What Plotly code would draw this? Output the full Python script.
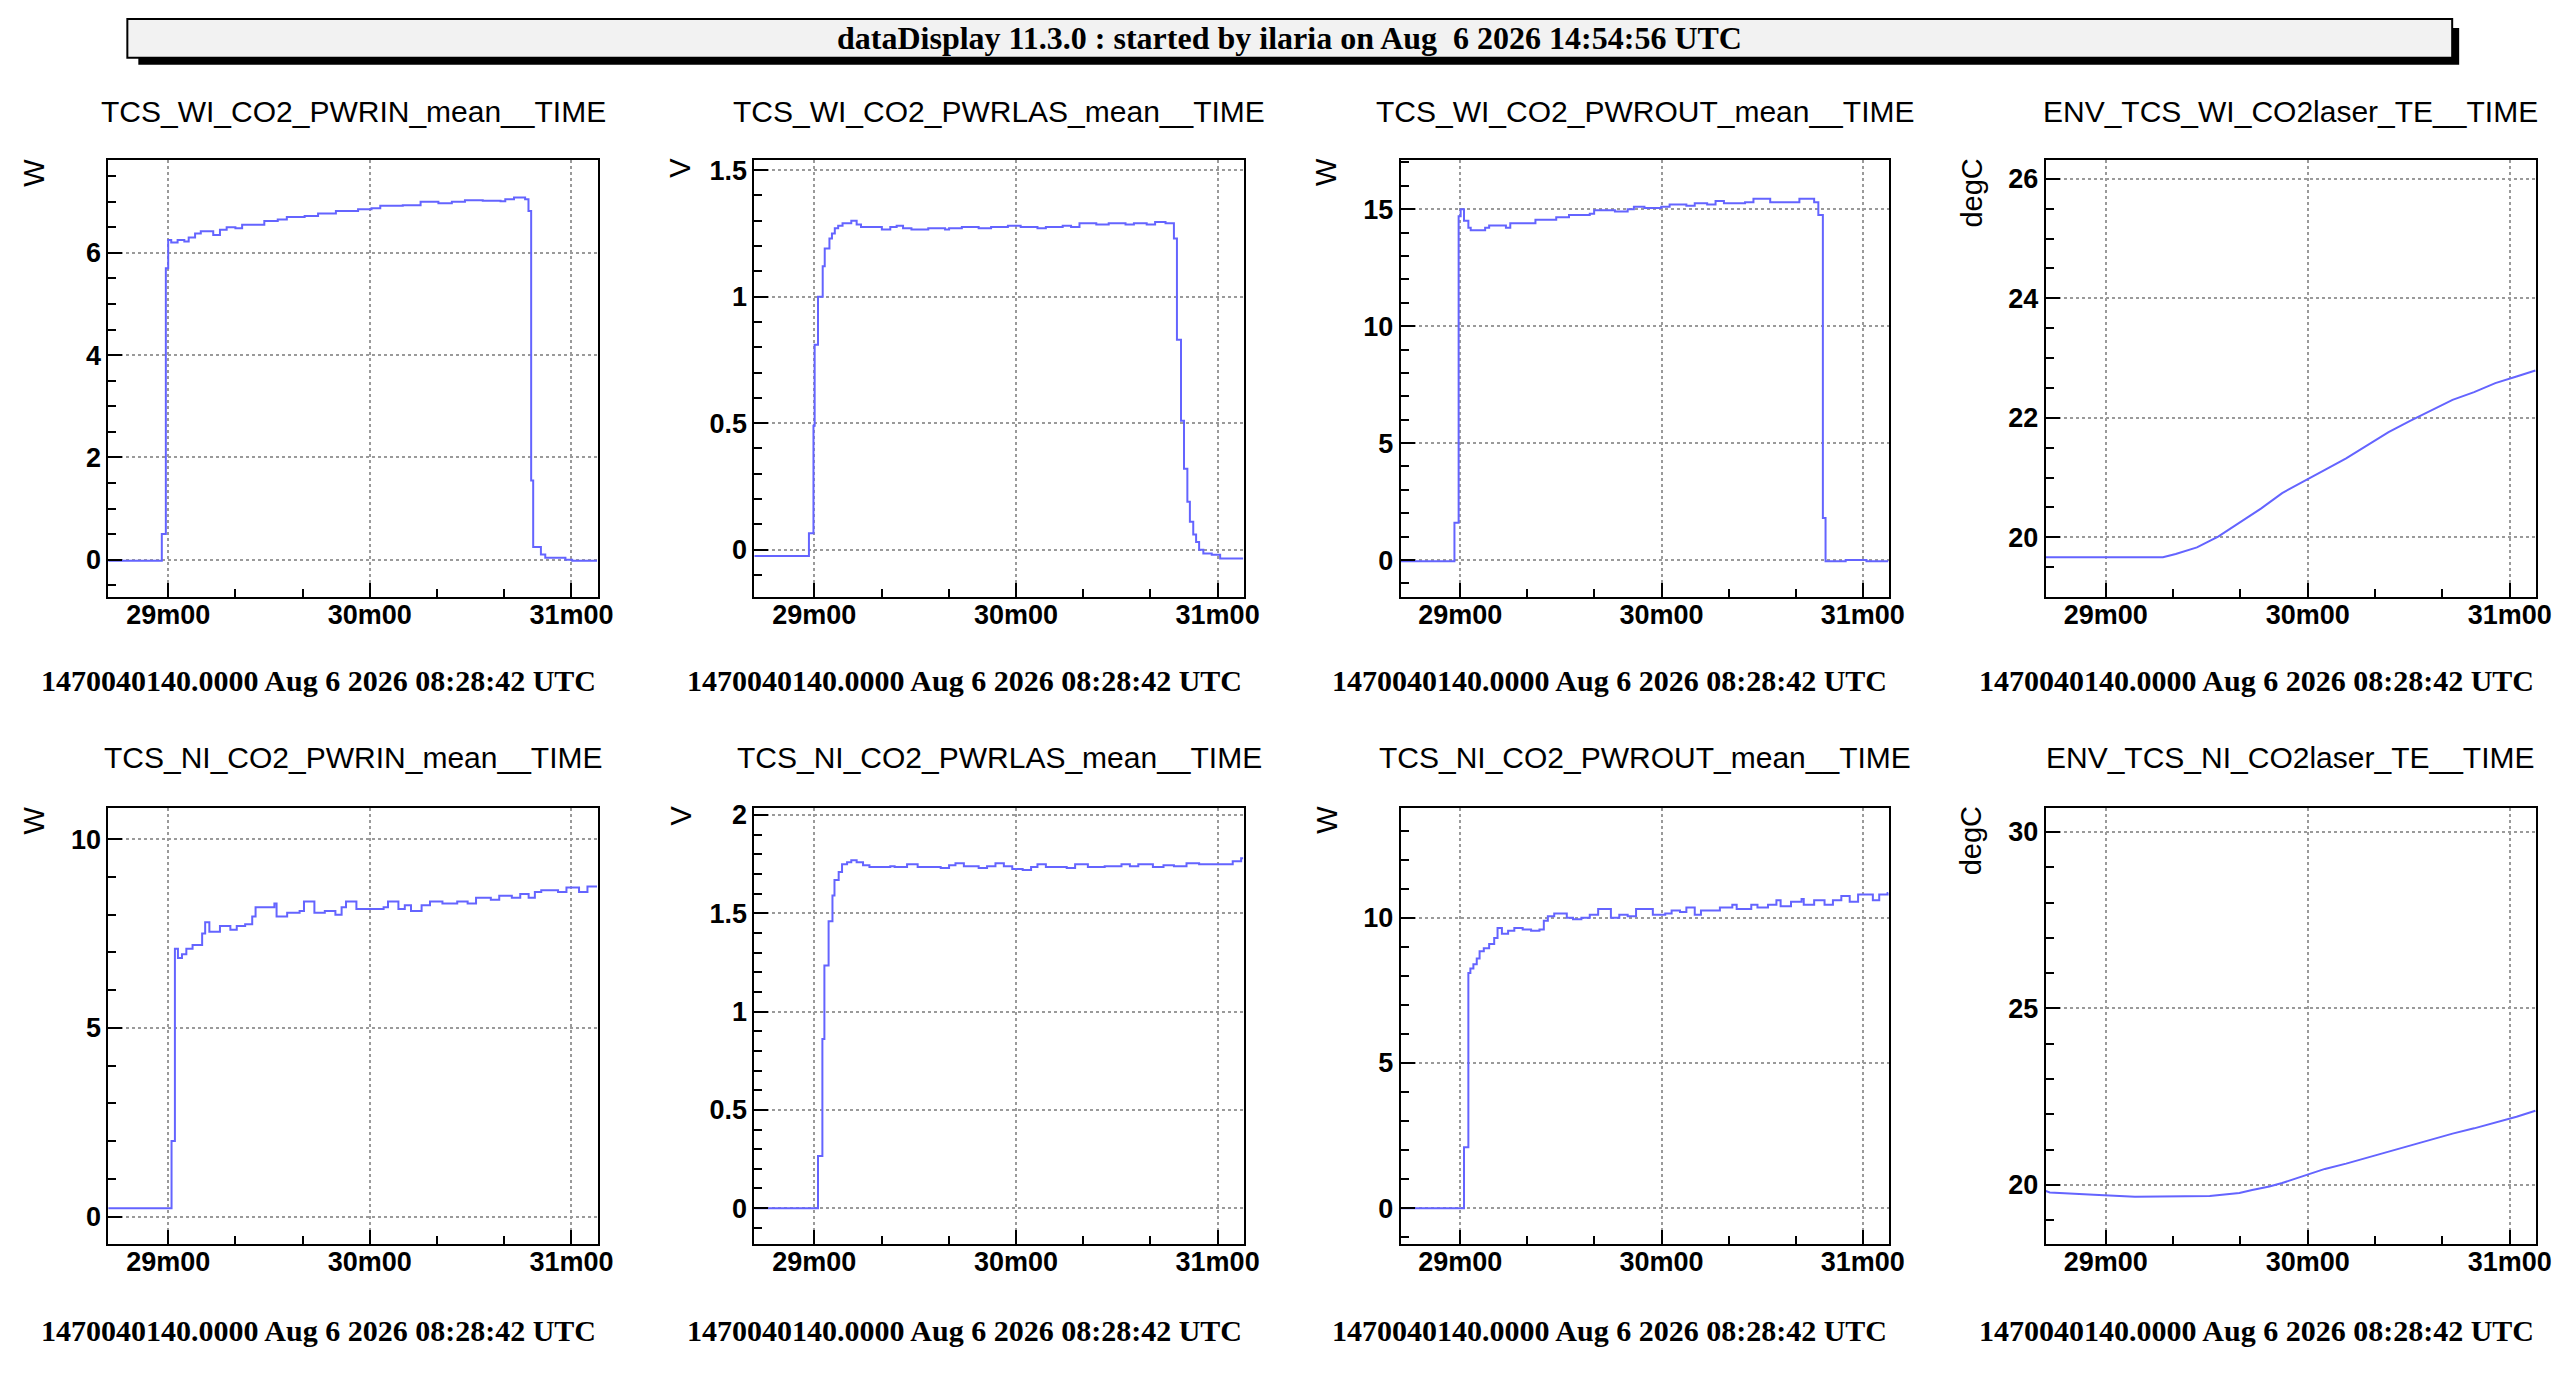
import pandas as pd
import plotly.graph_objects as go
from plotly.subplots import make_subplots

# seconds after 08:28:42 UTC
t_wi_pwrin = [0, 16.1, 17.3, 18.0, 18.9, 20.8, 22.8, 24.1, 26.0, 27.7, 31.4, 33.4, 35.4, 38.0, 40.0,
              44.0, 46.6, 50.6, 53.3, 58.6, 62.6, 67.9, 74.5, 78.5, 81.1, 87.8, 93.1, 98.4, 102.4, 106.3,
              111.6, 116.9, 118.3, 120.9, 124.2, 125.2, 126.0, 126.6, 128.9, 130.2, 136.2, 138.2, 145.6]
v_wi_pwrin = [-0.02, 0.5, 5.7, 6.25, 6.2, 6.25, 6.22, 6.3, 6.38, 6.42, 6.35, 6.45, 6.5, 6.48, 6.55,
              6.55, 6.62, 6.65, 6.7, 6.72, 6.77, 6.82, 6.85, 6.87, 6.92, 6.93, 7.0, 6.97, 7.0, 7.03,
              7.02, 7.01, 7.05, 7.08, 7.05, 6.82, 1.55, 0.25, 0.1, 0.04, 0.0, -0.02, -0.02]

t_wi_pwrlas = [0, 16.4, 17.75, 18.1, 19.1, 20.5, 21.1, 22.5, 23.25, 24.1, 25.1, 26.4, 29.0, 30.6, 31.9,
               38.1, 40.6, 42.5, 44.4, 46.9, 51.9, 56.9, 58.1, 61.9, 66.9, 70.6, 75.6, 79.4, 84.4, 86.9,
               91.9, 94.4, 96.9, 101.9, 105.6, 110.6, 113.1, 116.9, 119.4, 122.5, 125.0, 125.9, 127.1,
               128.0, 129.0, 129.75, 130.75, 131.6, 132.5, 133.75, 136.25, 138.75, 145.6]
v_wi_pwrlas = [-0.025, 0.065, 0.49, 0.81, 1.0, 1.12, 1.19, 1.23, 1.25, 1.27, 1.28, 1.29, 1.30, 1.285, 1.275,
               1.265, 1.275, 1.28, 1.27, 1.265, 1.27, 1.265, 1.27, 1.275, 1.27, 1.275, 1.28, 1.275, 1.27, 1.275,
               1.28, 1.275, 1.29, 1.285, 1.29, 1.285, 1.29, 1.285, 1.295, 1.29, 1.23, 0.83, 0.51,
               0.32, 0.19, 0.11, 0.06, 0.03, 0.0, -0.015, -0.02, -0.035, -0.035]

t_wi_pwrout = [0, 16.25, 17.5, 18.1, 19.1, 20.4, 21.1, 25.4, 26.6, 31.6, 32.9, 36.0, 40.4, 46.6, 50.4,
               56.6, 57.9, 64.1, 67.9, 69.75, 72.9, 77.9, 80.4, 85.4, 87.9, 91.6, 94.1, 96.6, 102.9, 105.4,
               110.4, 116.6, 119.1, 123.5, 124.75, 126.1, 126.9, 132.9, 139.1, 145.6]
v_wi_pwrout = [-0.05, 1.6, 14.7, 15.0, 14.5, 14.2, 14.1, 14.2, 14.3, 14.2, 14.4, 14.4, 14.55, 14.65, 14.75,
               14.8, 14.95, 14.9, 15.0, 15.1, 15.05, 15.1, 15.2, 15.15, 15.25, 15.2, 15.35, 15.25, 15.3, 15.45,
               15.3, 15.3, 15.45, 15.3, 14.75, 1.8, -0.05, 0.0, -0.05, -0.05]

t_wi_te = [0, 35.0, 38.8, 45.1, 51.4, 57.7, 64.1, 70.4, 78.0, 83.1, 89.4, 95.7, 102.0, 108.4, 114.7,
           121.0, 127.4, 133.7, 140.0, 145.6]
v_wi_te = [19.665, 19.665, 19.72, 19.83, 20.01, 20.24, 20.48, 20.74, 20.98, 21.13, 21.32, 21.54, 21.76,
           21.95, 22.13, 22.3, 22.43, 22.58, 22.69, 22.79]

t_ni_pwrin = [0, 19.0, 20.0, 20.9, 22.1, 23.4, 25.25, 28.1, 29.0, 30.25, 33.4, 36.5, 38.4, 40.9, 43.0,
              44.0, 49.6, 50.25, 53.4, 57.1, 58.4, 61.5, 64.6, 67.75, 69.6, 70.9, 74.0, 78.4, 82.1, 83.4,
              86.5, 88.4, 90.25, 93.4, 95.9, 99.6, 104.0, 107.1, 109.6, 114.0, 116.5, 120.25, 122.75,
              125.25, 127.1, 129.0, 134.0, 136.5, 140.25, 142.75, 145.6]
v_ni_pwrin = [0.22, 2.0, 7.1, 6.85, 6.95, 7.1, 7.2, 7.5, 7.8, 7.55, 7.7, 7.6, 7.7, 7.75, 7.95,
              8.2, 8.3, 7.95, 8.05, 8.1, 8.35, 8.05, 8.1, 8.0, 8.2, 8.35, 8.15, 8.15, 8.2, 8.35,
              8.15, 8.25, 8.1, 8.25, 8.35, 8.3, 8.35, 8.3, 8.45, 8.4, 8.5, 8.45, 8.55,
              8.45, 8.6, 8.65, 8.6, 8.72, 8.6, 8.75, 8.75]

t_ni_pwrlas = [0, 19.1, 20.4, 21.0, 22.25, 23.4, 24.0, 25.25, 26.25, 27.75, 29.0, 30.6, 32.5, 34.4, 40.6,
               41.9, 45.6, 48.75, 55.6, 58.1, 60.0, 62.5, 66.9, 69.4, 71.9, 74.4, 76.9, 80.0, 82.5, 84.4,
               86.9, 93.1, 95.6, 99.4, 104.4, 109.4, 111.9, 114.4, 118.75, 121.9, 125.0, 128.75, 132.5,
               142.5, 145.0, 145.6]
v_ni_pwrlas = [0.0, 0.265, 0.86, 1.235, 1.46, 1.59, 1.67, 1.71, 1.75, 1.76, 1.77, 1.76, 1.745, 1.735, 1.74,
               1.735, 1.75, 1.735, 1.73, 1.745, 1.755, 1.74, 1.73, 1.74, 1.755, 1.74, 1.725, 1.72, 1.735, 1.75,
               1.735, 1.73, 1.75, 1.735, 1.74, 1.75, 1.74, 1.75, 1.735, 1.745, 1.74, 1.755, 1.75,
               1.765, 1.78, 1.78]

t_ni_pwrout = [0, 19.1, 20.4, 21.0, 21.9, 22.9, 23.75, 25.0, 26.6, 28.1, 29.1, 30.4, 32.25, 34.1, 36.6,
               39.1, 41.6, 42.9, 44.1, 46.0, 49.75, 51.6, 54.1, 56.6, 59.1, 62.9, 65.4, 67.9, 70.4, 75.4,
               79.1, 81.0, 83.5, 85.4, 87.9, 89.75, 95.4, 99.1, 100.4, 104.75, 106.6, 109.75, 112.25, 113.5,
               116.6, 119.75, 120.4, 123.5, 126.6, 129.1, 131.6, 134.1, 136.6, 141.0, 142.9, 145.4, 145.6]
v_ni_pwrout = [0.0, 2.1, 8.1, 8.25, 8.4, 8.6, 8.85, 8.95, 9.1, 9.3, 9.65, 9.45, 9.55, 9.65, 9.6,
               9.55, 9.6, 9.9, 10.05, 10.15, 10.0, 9.95, 10.0, 10.1, 10.3, 10.0, 10.1, 10.05, 10.3, 10.1,
               10.15, 10.25, 10.2, 10.35, 10.1, 10.25, 10.35, 10.45, 10.3, 10.45, 10.35, 10.45, 10.6, 10.4,
               10.55, 10.65, 10.45, 10.6, 10.45, 10.6, 10.75, 10.55, 10.8, 10.6, 10.8, 10.85, 10.85]

t_ni_te = [0, 1.4, 14.5, 26.7, 48.9, 52.7, 57.7, 61.5, 66.6, 70.4, 78.0, 83.1, 89.4, 95.7, 102.0,
           108.4, 114.7, 121.0, 127.4, 133.7, 140.0, 145.6]
v_ni_te = [19.83, 19.78, 19.72, 19.66, 19.68, 19.72, 19.77, 19.85, 19.95, 20.05, 20.3, 20.45, 20.6, 20.77,
           20.93, 21.1, 21.27, 21.45, 21.6, 21.76, 21.93, 22.1]

titles = ["TCS_WI_CO2_PWRIN_mean__TIME", "TCS_WI_CO2_PWRLAS_mean__TIME",
          "TCS_WI_CO2_PWROUT_mean__TIME", "ENV_TCS_WI_CO2laser_TE__TIME",
          "TCS_NI_CO2_PWRIN_mean__TIME", "TCS_NI_CO2_PWRLAS_mean__TIME",
          "TCS_NI_CO2_PWROUT_mean__TIME", "ENV_TCS_NI_CO2laser_TE__TIME"]
units = ["W", "V", "W", "degC", "W", "V", "W", "degC"]
footer = "1470040140.0000 Aug 6 2026 08:28:42 UTC"
header = "dataDisplay 11.3.0 : started by ilaria on Aug \u00a06 2026 14:54:56 UTC"

W, H = 2568, 1378
DY = 12  # everything sits a little higher than measured


def px(x):
    return (101 + (x - 106) * 1.0049) / W


def py(y):
    return 1 - (y - DY) / H


base = pd.Timestamp("2026-08-06 08:28:42")
LINE = "#6464ff"
SANS = "Liberation Sans, Arial, Helvetica, sans-serif"
SERIF = "Liberation Serif, Times New Roman, serif"

# plot frames in pixels
cols_px = [(106, 596), (753, 1243), (1400, 1889), (2046, 2537)]
rows_px = [(158, 597), (809, 1247)]
title_px = [109, 758]
footer_px = [681, 1334]

panels = [
    (t_wi_pwrin, v_wi_pwrin, "hv", [-0.73, 7.81], 2, 0.5),
    (t_wi_pwrlas, v_wi_pwrlas, "hv", [-0.187, 1.539], 0.5, 0.1),
    (t_wi_pwrout, v_wi_pwrout, "hv", [-1.58, 17.09], 5, 1),
    (t_wi_te, v_wi_te, "linear", [19.0, 26.31], 2, 0.5),
    (t_ni_pwrin, v_ni_pwrin, "hv", [-0.72, 10.83], 5, 1),
    (t_ni_pwrlas, v_ni_pwrlas, "hv", [-0.181, 2.036], 0.5, 0.1),
    (t_ni_pwrout, v_ni_pwrout, "hv", [-1.22, 13.78], 5, 1),
    (t_ni_te, v_ni_te, "linear", [18.33, 30.68], 5, 1),
]

fig = make_subplots(rows=2, cols=4)
x_range = [base + pd.Timedelta(seconds=0.2), base + pd.Timedelta(seconds=145.8)]
tick_font = dict(family=SANS, size=27, color="black", weight="bold")

for i, (t, v, shape, yr, dt, mdt) in enumerate(panels):
    r, c = i // 4, i % 4
    x = base + pd.to_timedelta(t, unit="s")
    fig.add_trace(go.Scatter(x=x, y=v, mode="lines", line=dict(color=LINE, width=2, shape=shape),
                             showlegend=False), row=r + 1, col=c + 1)
    x0, x1 = cols_px[c]
    y0, y1 = rows_px[r]
    fig.update_xaxes(domain=[px(x0), px(x1)], range=x_range, type="date",
                     tickformat="%Mm%S", dtick=60000, tick0="2026-08-06 08:29:00",
                     ticks="inside", ticklen=14, tickwidth=2, tickcolor="black",
                     ticklabelstandoff=-7,
                     minor=dict(ticks="inside", ticklen=8, tickwidth=2, tickcolor="black",
                                dtick=20000, tick0="2026-08-06 08:29:00", showgrid=False),
                     showline=True, linecolor="black", linewidth=2, mirror=True,
                     showgrid=True, gridcolor="#9a9a9a", griddash="dot", gridwidth=1.5,
                     zeroline=False, tickfont=tick_font, row=r + 1, col=c + 1)
    fig.update_yaxes(domain=[py(y1), py(y0)], range=yr, dtick=dt, tick0=0,
                     ticks="inside", ticklen=14, tickwidth=2, tickcolor="black",
                     minor=dict(ticks="inside", ticklen=8, tickwidth=2, tickcolor="black",
                                dtick=mdt, tick0=0, showgrid=False),
                     showline=True, linecolor="black", linewidth=2, mirror=True,
                     showgrid=True, gridcolor="#9a9a9a", griddash="dot", gridwidth=1.5,
                     zeroline=False, tickfont=tick_font, row=r + 1, col=c + 1)

    fig.add_annotation(text=titles[i], xref="paper", yref="paper", x=px((x0 + x1) / 2),
                       y=py(title_px[r]), xanchor="center", yanchor="middle", showarrow=False,
                       font=dict(family=SANS, size=30, color="black"))
    fig.add_annotation(text=units[i], xref="paper", yref="paper", x=px(x0 - 74),
                       y=py(y0 - 4), xanchor="center", yanchor="top", textangle=-90, showarrow=False,
                       font=dict(family=SANS, size=29, color="black"))
    fig.add_annotation(text=footer, xref="paper", yref="paper", x=px(x1),
                       y=py(footer_px[r]), xanchor="right", yanchor="middle", showarrow=False,
                       font=dict(family=SERIF, size=30, color="black", weight="bold"))

# header box with ROOT-style shadow
fig.add_shape(type="rect", xref="paper", yref="paper", x0=px(136), x1=px(2460),
              y0=py(62), y1=py(25), fillcolor="black", line=dict(width=0), layer="below")
fig.add_shape(type="rect", xref="paper", yref="paper", x0=px(125), x1=px(2453),
              y0=py(55), y1=py(16), fillcolor="#f2f2f2", line=dict(color="black", width=2),
              layer="below")
fig.add_annotation(text=header, xref="paper", yref="paper", x=px((125 + 2453) / 2), y=py(35),
                   xanchor="center", yanchor="middle", showarrow=False,
                   font=dict(family=SERIF, size=32, color="black", weight="bold"))

fig.update_layout(width=W, height=H, margin=dict(l=0, r=0, t=0, b=0),
                  paper_bgcolor="white", plot_bgcolor="white")

fig.write_html("out.html")
